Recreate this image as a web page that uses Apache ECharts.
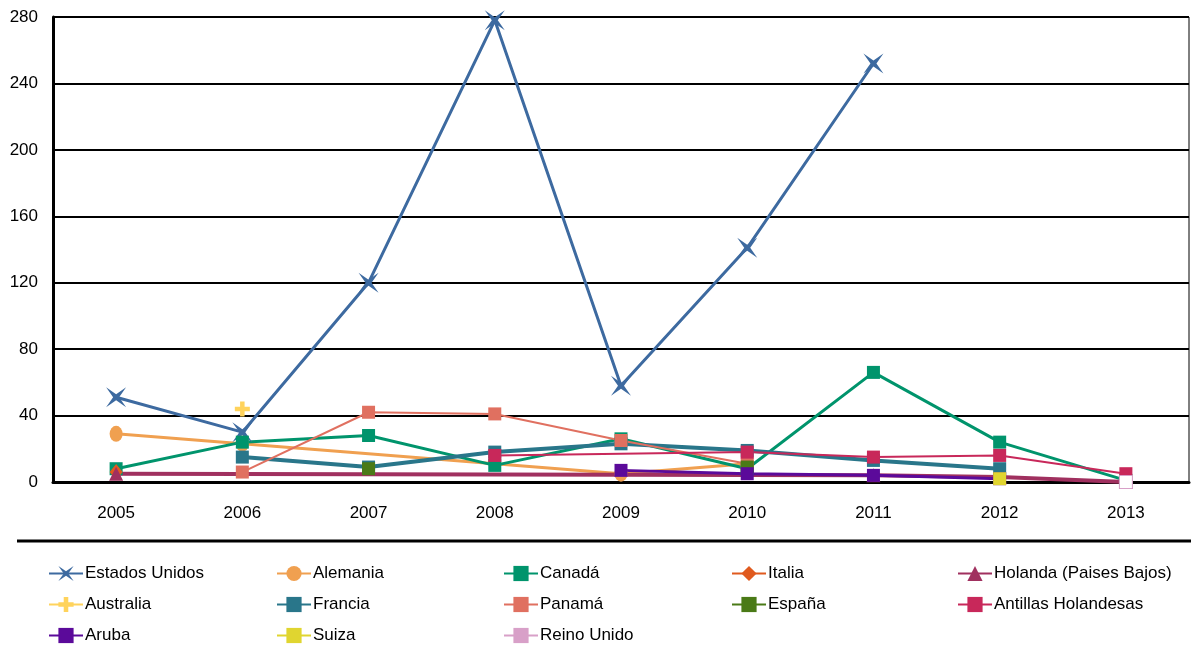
<!DOCTYPE html>
<html>
<head>
<meta charset="utf-8">
<script src="https://cdn.jsdelivr.net/npm/echarts@6/dist/echarts.min.js"></script>
<style>
  html, body { margin: 0; padding: 0; background: #fff; }
  #chart { width: 1191px; height: 664px; }
</style>
</head>
<body>
<div id="chart"></div>
<script>
// Years on the category axis
const years = ['2005', '2006', '2007', '2008', '2009', '2010', '2011', '2012', '2013'];
const yTicks = [0, 40, 80, 120, 160, 200, 240, 280];

// Values per country (null = no data for that year)
const estadosUnidos = [51, 30, 120, 278, 58, 141, 252, null, null];
const alemania      = [29, 23, null, null, 5, 11, null, null, null];
const canada        = [8, 24, 28, 10, 26, 8, 66, 24, 1];
const italia        = [6, null, null, null, null, null, null, null, null];
const holanda       = [5, null, null, null, null, null, 4, 3, 0];
const australia     = [null, 44, null, null, null, null, null, null, null];
const francia       = [null, 15, 9, 18, 23, 19, 13, 8, null];
const panama        = [null, 6, 42, 41, 25, 11, null, null, null];
const espana        = [null, null, 8, null, null, 9, null, null, null];
const antillas      = [null, null, null, 16, null, 18, 15, 16, 5];
const aruba         = [null, null, null, null, 7, 5, 4, 2, null];
const suiza         = [null, null, null, null, null, null, null, 2, null];
const reinoUnido    = [null, null, null, null, null, null, null, null, 0];

const FONT = "'Liberation Sans Narrow', 'Liberation Sans', Arial, sans-serif";

const STAR4 = 'path://M0,0L10,7L20,0L13,10L20,20L10,13L0,20L7,10Z';
const PLUS = 'path://M7,0L13,0L13,7L20,7L20,13L13,13L13,20L7,20L7,13L0,13L0,7L7,7Z';

function line(name, data, color, width, symbol, size, connect) {
  return {
    name: name,
    type: 'line',
    data: data,
    connectNulls: connect,
    symbol: symbol,
    symbolSize: size,
    showAllSymbol: true,
    lineStyle: { color: color, width: width },
    itemStyle: { color: color },
    emphasis: { disabled: true }
  };
}

// Reino Unido's only point is drawn hollow (white fill, pink outline)
const reinoData = reinoUnido.map(function (v) {
  return v === null ? null : { value: v, itemStyle: { color: '#ffffff', borderColor: '#D8A0C8', borderWidth: 1 } };
});

const series = [
  line('Estados Unidos', estadosUnidos, '#3D6AA0', 3, STAR4, 20, false),
  line('Alemania', alemania, '#F0A050', 3, 'circle', [13, 16], true),
  line('Canadá', canada, '#00946C', 3, 'rect', 13, false),
  line('Italia', italia, '#E05A1E', 3, 'diamond', [13, 16], false),
  line('Holanda (Paises Bajos)', holanda, '#A0305F', 4, 'triangle', 14, true),
  line('Australia', australia, '#FFD35C', 3, PLUS, 15, false),
  line('Francia', francia, '#29768A', 4, 'rect', 13, false),
  line('Panamá', panama, '#E07060', 2, 'rect', 13, false),
  line('España', espana, '#4A7A17', 2, 'rect', 13, false),
  line('Antillas Holandesas', antillas, '#C8285A', 2, 'rect', 13, true),
  line('Aruba', aruba, '#5B0A9A', 3, 'rect', 13, false),
  line('Suiza', suiza, '#E0D530', 2, 'rect', 13, false),
  line('Reino Unido', reinoData, '#D8A0C8', 2, 'rect', 13, false)
];

const legendCols = [
  ['Estados Unidos', 'Australia', 'Aruba'],
  ['Alemania', 'Francia', 'Suiza'],
  ['Canadá', 'Panamá', 'Reino Unido'],
  ['Italia', 'España'],
  ['Holanda (Paises Bajos)', 'Antillas Holandesas']
];
const legendLeft = [48, 276, 503, 731, 957];

const legends = legendCols.map(function (names, i) {
  return {
    data: names,
    orient: 'vertical',
    left: legendLeft[i],
    top: 564,
    itemWidth: 34,
    itemHeight: 19,
    itemGap: 12,
    padding: 0,
    selectedMode: false,
    textStyle: { fontFamily: FONT, fontSize: 17, lineHeight: 19, color: '#000', padding: [0, 0, 0, -3] }
  };
});

const chart = echarts.init(document.getElementById('chart'), null, { renderer: 'canvas' });
chart.setOption({
  animation: false,
  backgroundColor: '#ffffff',
  grid: {
    left: 53, right: 2, top: 17, bottom: 182,
    show: true, borderColor: '#000', borderWidth: 1, backgroundColor: 'transparent'
  },
  legend: legends,
  xAxis: {
    type: 'category',
    data: years,
    boundaryGap: true,
    axisLine: { lineStyle: { color: '#000', width: 3 } },
    axisTick: { show: false },
    axisLabel: { color: '#000', fontFamily: FONT, fontSize: 17, margin: 23 }
  },
  yAxis: {
    type: 'value',
    min: yTicks[0],
    max: yTicks[yTicks.length - 1],
    interval: yTicks[1] - yTicks[0],
    axisLine: { show: true, lineStyle: { color: '#000', width: 3 } },
    axisTick: { show: false },
    splitLine: { lineStyle: { color: '#000', width: 2 } },
    axisLabel: { color: '#000', fontFamily: FONT, fontSize: 17, margin: 15 }
  },
  graphic: [{
    type: 'line',
    shape: { x1: 17, y1: 541, x2: 1191, y2: 541 },
    style: { stroke: '#000', lineWidth: 3 },
    silent: true
  }],
  series: series
});
</script>
</body>
</html>
